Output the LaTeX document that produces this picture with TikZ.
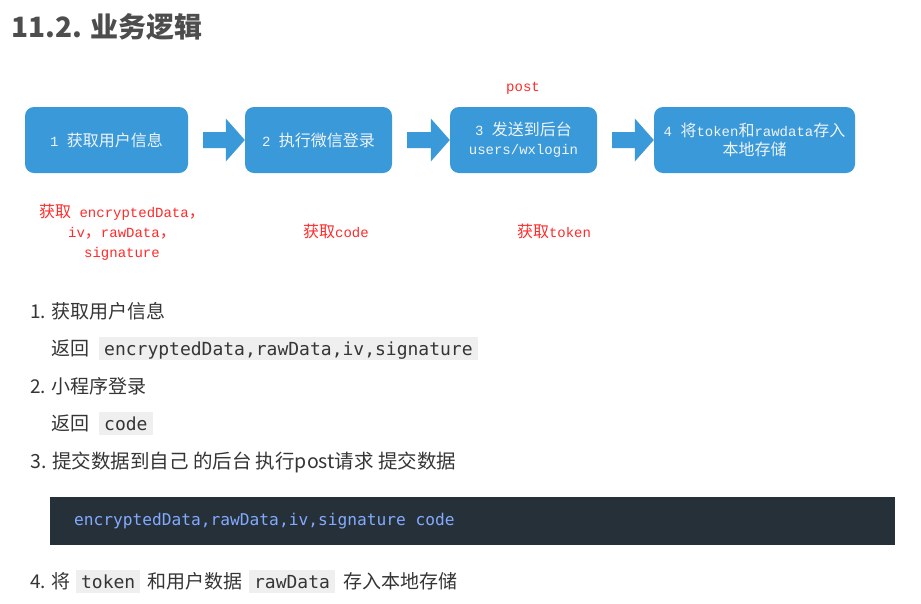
\documentclass[tikz,border=0pt]{standalone}
\usepackage{fontspec}
\setmainfont{Noto Sans CJK SC}
\newfontfamily\cjk{Noto Sans CJK SC}
\newfontfamily\mono{Liberation Mono}
\newfontfamily\codefont{DejaVu Sans Mono}
\usetikzlibrary{calc}
\definecolor{boxblue}{HTML}{3A99D8}
\definecolor{boxtext}{HTML}{EEF4FA}
\definecolor{redlbl}{HTML}{FF2A2A}
\definecolor{titlegray}{HTML}{4D4D4D}
\definecolor{bodytext}{HTML}{353535}
\definecolor{codebg}{HTML}{EFEFEF}
\definecolor{darkbg}{HTML}{263038}
\definecolor{codeblue}{HTML}{82AAFF}
\newcommand\mt[1]{{\mono\fontsize{14}{20}\selectfont #1}}
\newcommand\barrow[2]{\fill[boxblue] ($(#1.east)+(15,-8)$) -- ($(#2.west)+(-19,-8)$) -- ($(#2.west)+(-19,-21.5)$) -- (#2.west) -- ($(#2.west)+(-19,21.5)$) -- ($(#2.west)+(-19,8)$) -- ($(#1.east)+(15,8)$) -- cycle;}
\tikzset{
  bx/.style={fill=boxblue, rounded corners=9pt, minimum height=66pt, inner sep=2pt, align=center, text=boxtext, font=\cjk\fontsize{16}{19}\selectfont},
  lbl/.style={text=redlbl, align=center, inner sep=0pt, font=\cjk\fontsize{16}{20}\selectfont},
  txt/.style={anchor=base west, inner sep=0pt, text=bodytext, font=\cjk\fontsize{19}{22}\selectfont},
  code/.style={anchor=base west, fill=codebg, inner xsep=5pt, inner ysep=2pt, text height=16pt, text depth=3pt, text=bodytext, font=\codefont\fontsize{18}{22}\selectfont},
}
\begin{document}
\begin{tikzpicture}[x=1pt,y=-1pt]
\useasboundingbox[fill=white] (0,0) rectangle (921,603);
% title
\node[anchor=base west, inner sep=0pt, text=titlegray, font=\cjk\bfseries\fontsize{28}{32}\selectfont] (title) at (11,37) {11.2. 业务逻辑};
% flow boxes
\node[bx, minimum width=163pt] (b1) at (106.5,140) {\mt{1 }获取用户信息};
\node[bx, minimum width=147pt] (b2) at (318.5,140) {\mt{2 }执行微信登录};
\node[bx, minimum width=147pt] (b3) at (523.5,140) {\mt{3 }发送到后台\\\mt{users/wxlogin}};
\node[bx, minimum width=201pt] (b4) at (754.5,140) {\mt{4 }将\mt{token}和\mt{rawdata}存入\\本地存储};
\barrow{b1}{b2}
\barrow{b2}{b3}
\barrow{b3}{b4}
% red labels
\node[lbl] (post) at (523,88) {\mt{post}};
\node[lbl] (l1) at (122,232) {获取\mt{ encryptedData}，\\\mt{iv}，\mt{rawData}，\\\mt{signature}};
\node[lbl] (l2) at (336,231) {获取\mt{code}};
\node[lbl] (l3) at (554,231) {获取\mt{token}};
% list
\node[txt] (i1) at (30,318) {1. 获取用户信息};
\node[txt] (r1) at (51,355) {返回};
\node[code] (c1) at (99,355) {encryptedData,rawData,iv,signature};
\node[txt] (i2) at (30,393) {2. 小程序登录};
\node[txt] (r2) at (51,430) {返回};
\node[code] (c2) at (99,430) {code};
\node[txt, font=\cjk\fontsize{19.5}{22}\selectfont] (i3) at (30,468) {3. 提交数据到自己 的后台 执行post请求 提交数据};
\node[fill=darkbg, minimum width=845pt, minimum height=48pt, inner sep=0pt, anchor=north west] (blk) at (50,497) {};
\node[anchor=west, inner sep=0pt, text=codeblue, font=\codefont\fontsize{16.2}{20}\selectfont] (blktxt) at (74,521) {encryptedData,rawData,iv,signature code};
\node[txt] (i4a) at (30,588) {4. 将};
\node[code] (c3) at ($(i4a.base east)+(5,0)$) {token};
\node[txt] (i4b) at ($(c3.base east)+(7,0)$) {和用户数据};
\node[code] (c4) at ($(i4b.base east)+(6,0)$) {rawData};
\node[txt] (i4c) at ($(c4.base east)+(8,0)$) {存入本地存储};
\end{tikzpicture}
\end{document}
